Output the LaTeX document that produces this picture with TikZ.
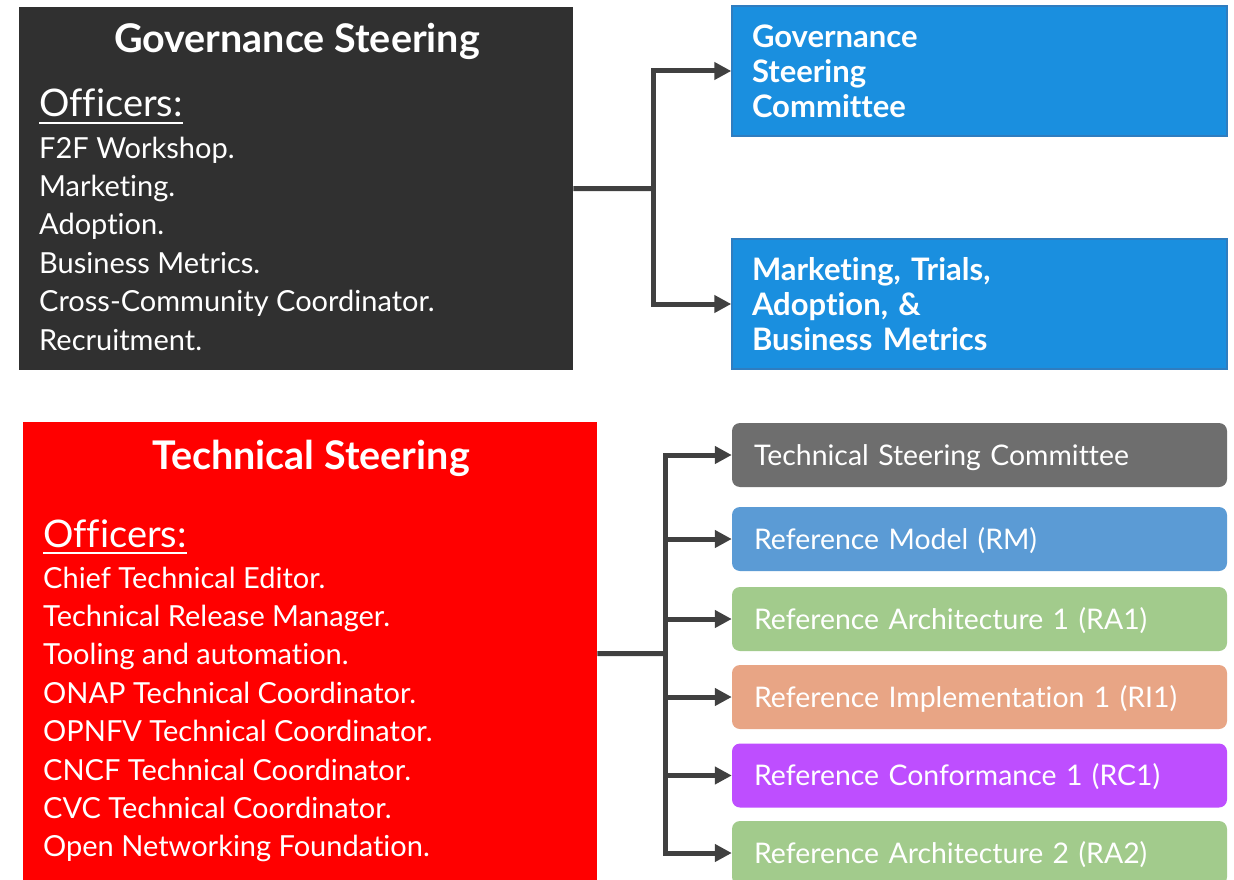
\documentclass[tikz,border=0pt]{standalone}
\usepackage{fontspec}
\setmainfont{Lato}[Ligatures=NoCommon]
\usetikzlibrary{arrows.meta}
\definecolor{govdark}{HTML}{303030}
\definecolor{techred}{HTML}{FF0000}
\definecolor{bigblue}{HTML}{1A8FDF}
\definecolor{bigblueedge}{HTML}{2F7DC0}
\definecolor{tscgray}{HTML}{6E6E6E}
\definecolor{rmblue}{HTML}{5B9BD5}
\definecolor{ragreen}{HTML}{A2CB8C}
\definecolor{risalmon}{HTML}{E8A585}
\definecolor{rcpurple}{HTML}{BE4EFF}
\definecolor{connc}{HTML}{404040}
\begin{document}
\begin{tikzpicture}[x=1pt,y=-1pt,
  panel/.style={inner sep=0pt, anchor=north west},
  titletxt/.style={text=white, inner sep=0pt, anchor=base, font=\fontsize{39.5}{44}\selectfont\bfseries},
  offtxt/.style={text=white, inner sep=0pt, anchor=base west, font=\fontsize{38}{44}\selectfont},
  listtxt/.style={text=white, inner sep=0pt, anchor=base west, font=\fontsize{29}{35}\selectfont},
  bluebox/.style={fill=bigblue, draw=bigblueedge, line width=1.5pt, minimum width=495pt, minimum height=130pt, text width=455pt, inner xsep=20pt, inner ysep=0pt, align=left, text=white, font=\fontsize{31}{35}\selectfont\bfseries},
  rbox/.style={rounded corners=8pt, minimum width=495pt, minimum height=64pt, text width=451pt, text height=24pt, text depth=4pt, inner xsep=22pt, inner ysep=0pt, align=left, text=white, font=\fontsize{28.4}{34}\selectfont},
  conn/.style={draw=connc, line width=5pt},
  tip/.style={-{Triangle[length=17pt,width=17pt]}}
]
\useasboundingbox (0,0) rectangle (1234,880);
\fill[white] (0,0) rectangle (1234,880);

% panels
\node[panel, fill=govdark, minimum width=554pt, minimum height=363pt] (gov) at (19,7) {};
\node[panel, fill=techred, minimum width=574pt, minimum height=463pt] (tech) at (23,422) {};

% governance text
\node[titletxt] (govtitle) at (297,53) {Governance Steering};
\node[offtxt] (govoff) at (39,117) {Officers:};
\draw[white, line width=2.5pt] ([yshift=-6pt]govoff.base west) -- ([yshift=-6pt]govoff.base east);
\foreach \t [count=\i] in {F2F Workshop., Marketing., Adoption., Business Metrics., Cross-Community Coordinator., Recruitment.}
  \node[listtxt] (gl\i) at (39,{158+(\i-1)*38.4}) {\t};

% technical text
\node[titletxt] (techtitle) at (311,469) {Technical Steering};
\node[offtxt] (techoff) at (43,547) {Officers:};
\draw[white, line width=2.5pt] ([yshift=-6pt]techoff.base west) -- ([yshift=-6pt]techoff.base east);
\foreach \t [count=\i] in {Chief Technical Editor., Technical Release Manager., Tooling and automation., ONAP Technical Coordinator., OPNFV Technical Coordinator., CNCF Technical Coordinator., CVC Technical Coordinator., Open Networking Foundation.}
  \node[listtxt] (tl\i) at (43,{588+(\i-1)*38.4}) {\t};

% governance targets
\node[bluebox] (gsc) at (979.5,71) {Governance\\Steering\\Committee};
\node[bluebox] (mkt) at (979.5,304) {Marketing, Trials,\\Adoption, \&\\Business Metrics};

% technical targets
\node[rbox, fill=tscgray] (r1) at (979.5,455) {Technical Steering Committee};
\node[rbox, fill=rmblue] (r2) at (979.5,539) {Reference Model (RM)};
\node[rbox, fill=ragreen] (r3) at (979.5,619) {Reference Architecture 1 (RA1)};
\node[rbox, fill=risalmon] (r4) at (979.5,697) {Reference Implementation 1 (RI1)};
\node[rbox, fill=rcpurple] (r5) at (979.5,775.5) {Reference Conformance 1 (RC1)};
\node[rbox, fill=ragreen] (r6) at (979.5,853) {Reference Architecture 2 (RA2)};

% connectors
\coordinate (gj) at (653,188.5);
\draw[conn] (gov.east) -- (gj);
\draw[conn, tip] (gj) |- (gsc.west);
\draw[conn, tip] (gj) |- (mkt.west);

\coordinate (tj) at (665,653.5);
\draw[conn] (tech.east) -- (tj);
\foreach \i in {1,...,6}
  \draw[conn, tip] (tj) |- (r\i.west);
\end{tikzpicture}
\end{document}
